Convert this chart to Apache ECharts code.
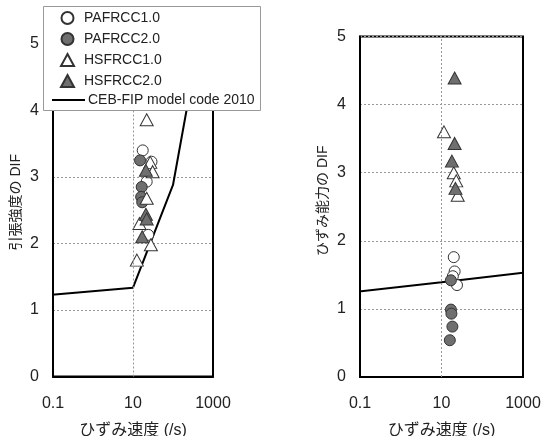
<!DOCTYPE html>
<html>
<head>
<meta charset="utf-8">
<script src="https://cdn.jsdelivr.net/npm/echarts@6/dist/echarts.min.js"></script>
<style>
  html, body { margin: 0; padding: 0; background: #fff; }
  #chart { width: 545px; height: 436px; }
</style>
</head>
<body>
<div id="chart"></div>
<script>
// Strain-rate axis (log scale) ticks and labels
const strainRateTicks = [0.1, 10, 1000];
const strainRateTickLabels = ['0.1', '10', '1000'];
const xAxisTitle = 'ひずみ速度 (/s)';
const yTitleTensile = '引張強度の DIF';
const yTitleCapacity = 'ひずみ能力の DIF';

// Series names
const seriesNames = ['PAFRCC1.0', 'PAFRCC2.0', 'HSFRCC1.0', 'HSFRCC2.0'];
const modelName = 'CEB-FIP model code 2010';

// Tensile strength DIF: [strain rate (/s), DIF]
const tensilePAF1 = [[17.5, 3.40], [29, 3.23], [22, 2.93], [24, 2.13]];
const tensilePAF2 = [[15, 3.25], [16.5, 2.85], [16, 2.70], [17, 2.62]];
const tensileHSF1 = [[22, 3.86], [27, 3.22], [31, 3.08], [22, 2.68], [14.5, 2.30], [28, 1.98], [12.5, 1.75]];
const tensileHSF2 = [[21, 3.10], [21, 2.44], [22, 2.37], [17, 2.10]];
const tensileModel = [[0.067, 1.22], [10, 1.336], [100, 2.88], [435, 5]];

// Strain capacity DIF: [strain rate (/s), DIF]
const capacityPAF1 = [[20, 1.76], [21, 1.55], [19, 1.48], [24, 1.35]];
const capacityPAF2 = [[17, 1.42], [17, 0.99], [17.5, 0.93], [18.5, 0.74], [16, 0.54]];
const capacityHSF1 = [[11.5, 3.60], [20, 3.00], [23, 2.88], [25, 2.67]];
const capacityHSF2 = [[21, 4.39], [21, 3.43], [18, 3.17], [22, 2.77]];
const capacityModel = [[0.067, 1.245], [10, 1.39], [1000, 1.53]];

const FONT = "'Liberation Sans', Arial, 'Noto Sans CJK JP', sans-serif";
const TEXT = '#222';

const markerStyles = [
  { symbol: 'circle', size: 11, fill: '#ffffff' },
  { symbol: 'circle', size: 11, fill: '#6f6f6f' },
  { symbol: 'triangle', size: [13, 12], fill: '#ffffff' },
  { symbol: 'triangle', size: [13, 12], fill: '#6f6f6f' }
];

function tickLabel(v) {
  for (let i = 0; i < strainRateTicks.length; i++) {
    if (Math.abs(Math.log10(v) - Math.log10(strainRateTicks[i])) < 1e-6) return strainRateTickLabels[i];
  }
  return '';
}

function makeXAxis(gridIndex) {
  return {
    gridIndex, type: 'log', logBase: 10, min: 0.1, max: 1000,
    axisLine: { lineStyle: { color: '#000', width: 2 } },
    axisTick: { show: false },
    splitLine: { show: false },
    axisLabel: { formatter: tickLabel, color: TEXT, fontSize: 16, fontFamily: FONT, margin: 19 },
    name: xAxisTitle, nameLocation: 'middle', nameGap: 46,
    nameTextStyle: { color: TEXT, fontSize: 16, fontFamily: FONT }
  };
}

function makeYAxis(gridIndex, title, shiftUp) {
  return {
    gridIndex, type: 'value', min: 0, max: 5, interval: 1,
    axisLine: { show: true, lineStyle: { color: '#000', width: 2 } },
    axisTick: { show: false },
    splitLine: { show: true, lineStyle: { color: '#999', type: [2, 2], width: 1 } },
    axisLabel: { color: TEXT, fontSize: 16, fontFamily: FONT, margin: 14 },
    name: title, nameLocation: 'middle', nameRotate: 90, nameGap: 30,
    nameTextStyle: { color: TEXT, fontSize: 14, fontFamily: FONT, padding: [0, 0, 0, shiftUp] }
  };
}

function modelSeries(idx, data) {
  return {
    name: modelName, type: 'line', xAxisIndex: idx, yAxisIndex: idx,
    data, showSymbol: false, symbol: 'none', clip: false, z: 3,
    lineStyle: { color: '#000', width: 2 },
    itemStyle: { color: '#000' },
    markLine: {
      silent: true, symbol: 'none', label: { show: false },
      lineStyle: { color: '#999', type: [2, 2], width: 1 },
      data: [{ xAxis: 10 }]
    }
  };
}

function scatterSeries(idx, k, data) {
  const m = markerStyles[k];
  return {
    name: seriesNames[k], type: 'scatter', xAxisIndex: idx, yAxisIndex: idx,
    data, symbol: m.symbol, symbolSize: m.size, z: 4,
    itemStyle: { color: m.fill, borderColor: '#333', borderWidth: 1, opacity: 1 }
  };
}

const chart = echarts.init(document.getElementById('chart'), null, { renderer: 'canvas' });
chart.setOption({
  animation: false,
  backgroundColor: '#fff',
  textStyle: { fontFamily: FONT },
  grid: [
    { left: 53, top: 44, width: 160, height: 332.5, outerBoundsMode: 'none', show: true, borderColor: '#000', borderWidth: 2, backgroundColor: 'transparent' },
    { left: 360, top: 36.5, width: 163, height: 340.5, outerBoundsMode: 'none', show: true, borderColor: '#000', borderWidth: 2, backgroundColor: 'transparent' }
  ],
  xAxis: [makeXAxis(0), makeXAxis(1)],
  yAxis: [makeYAxis(0, yTitleTensile, 16), makeYAxis(1, yTitleCapacity, 12)],
  graphic: {
    elements: [{
      type: 'rect', z: 50, silent: true,
      shape: { x: 43.5, y: 6.5, width: 217, height: 104 },
      style: { fill: '#fff', stroke: '#999', lineWidth: 1 }
    }]
  },
  legend: [
    {
      data: seriesNames, orient: 'vertical', left: 60, top: 11, padding: 0,
      itemWidth: 13, itemHeight: 12, itemGap: 7, z: 60,
      textStyle: { color: TEXT, fontSize: 14, fontFamily: FONT, padding: [0, 0, 0, 5] }
    },
    {
      data: [{ name: modelName, icon: 'rect' }], orient: 'vertical', left: 52, top: 93, padding: 0,
      itemWidth: 33, itemHeight: 2, z: 60,
      textStyle: { color: TEXT, fontSize: 14, fontFamily: FONT, padding: [0, 0, 0, -2] }
    }
  ],
  series: [
    modelSeries(0, tensileModel),
    scatterSeries(0, 0, tensilePAF1),
    scatterSeries(0, 1, tensilePAF2),
    scatterSeries(0, 2, tensileHSF1),
    scatterSeries(0, 3, tensileHSF2),
    modelSeries(1, capacityModel),
    scatterSeries(1, 0, capacityPAF1),
    scatterSeries(1, 1, capacityPAF2),
    scatterSeries(1, 2, capacityHSF1),
    scatterSeries(1, 3, capacityHSF2)
  ]
});
</script>
</body>
</html>
